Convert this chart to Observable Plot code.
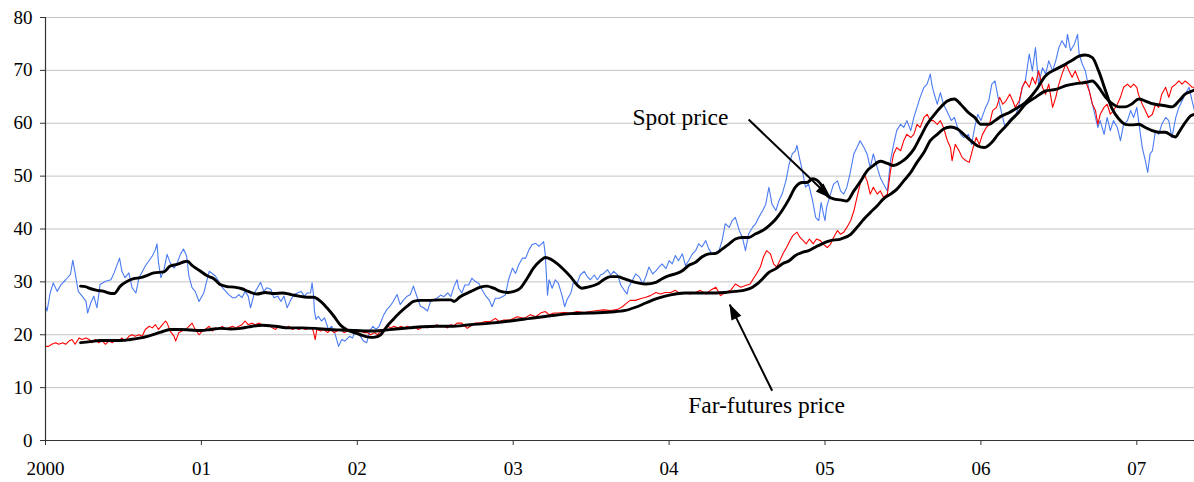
<!DOCTYPE html>
<html><head><meta charset="utf-8">
<script src="https://cdn.jsdelivr.net/npm/d3@7"></script>
<script src="https://cdn.jsdelivr.net/npm/@observablehq/plot@0.6"></script>
<style>
html,body{margin:0;padding:0;background:#fff;}
#chart{width:1194px;height:482px;}
</style></head><body><div id="chart"></div>
<script>
// x tick positions (years) and their labels
const yearTicks = [2000, 2001, 2002, 2003, 2004, 2005, 2006, 2007];
const yearLabels = ["2000", "01", "02", "03", "04", "05", "06", "07"];
const valueTicks = [0, 10, 20, 30, 40, 50, 60, 70, 80];

// [years since Jan 2000, price]
const spotPrice = [[0.00,25.4],[0.01,24.5],[0.03,27.9],[0.05,29.8],[0.075,28.2],[0.10,29.5],[0.13,30.4],[0.16,31.4],[0.175,34.1],[0.19,31.7],[0.21,28.2],[0.235,27.3],[0.26,26.3],[0.27,24.1],[0.29,26.0],[0.31,27.3],[0.33,25.1],[0.35,29.5],[0.385,30.1],[0.42,30.4],[0.44,31.7],[0.475,34.5],[0.49,32.0],[0.51,30.8],[0.535,31.7],[0.555,28.9],[0.58,27.9],[0.60,30.8],[0.64,33.0],[0.685,34.9],[0.705,36.1],[0.715,37.2],[0.725,33.6],[0.74,30.8],[0.76,32.3],[0.78,35.2],[0.80,33.6],[0.825,32.6],[0.845,33.6],[0.865,35.2],[0.885,36.2],[0.905,34.9],[0.92,31.1],[0.94,28.9],[0.96,28.2],[0.985,26.3],[1.015,27.9],[1.05,32.0],[1.09,31.1],[1.135,28.9],[1.175,27.6],[1.20,27.0],
[1.22,27.0],[1.24,27.6],[1.26,27.0],[1.28,28.2],[1.30,27.3],[1.315,25.1],[1.34,27.9],[1.36,28.9],[1.38,29.9],[1.40,28.2],[1.42,28.9],[1.445,28.6],[1.465,27.0],[1.49,27.3],[1.51,26.3],[1.53,27.3],[1.55,25.1],[1.575,26.7],[1.595,27.6],[1.615,27.9],[1.64,28.2],[1.66,27.3],[1.68,27.9],[1.70,27.9],[1.71,29.8],[1.72,27.3],[1.725,24.5],[1.735,22.9],[1.75,23.5],[1.77,22.6],[1.79,23.2],[1.815,21.0],[1.835,21.6],[1.855,20.4],[1.88,17.8],[1.90,19.1],[1.92,18.8],[1.95,19.7],[1.97,19.4],[1.99,21.0],[2.02,19.7],[2.04,18.8],[2.06,18.5],[2.08,20.7],[2.10,21.6],[2.12,21.0],[2.14,21.6],[2.17,23.8],[2.19,24.8],[2.21,25.4],[2.23,26.3],[2.255,27.6],[2.275,25.7],[2.30,26.7],[2.32,27.3],[2.34,27.6],[2.36,29.2],[2.385,27.0],[2.405,25.4],[2.425,25.1],[2.45,24.5],[2.47,26.3],
[2.49,26.6],[2.51,26.9],[2.535,27.5],[2.555,27.2],[2.58,27.9],[2.60,27.2],[2.62,29.1],[2.64,30.4],[2.65,28.8],[2.67,27.9],[2.69,29.4],[2.715,29.4],[2.735,30.7],[2.755,30.1],[2.78,29.7],[2.80,28.5],[2.82,27.5],[2.845,26.6],[2.865,25.3],[2.885,26.9],[2.91,26.9],[2.93,27.2],[2.95,27.5],[2.97,30.4],[2.995,32.6],[3.015,31.6],[3.035,33.2],[3.06,34.5],[3.08,34.5],[3.10,36.0],[3.12,37.0],[3.145,37.3],[3.165,36.7],[3.185,37.3],[3.195,37.6],[3.205,35.4],[3.22,27.5],[3.23,30.4],[3.25,28.8],[3.27,30.4],[3.29,29.7],[3.315,27.2],[3.33,25.3],[3.345,26.6],[3.37,27.9],[3.39,30.4],[3.41,29.7],[3.43,31.3],[3.455,32.0],[3.475,31.0],[3.495,30.4],[3.52,31.3],[3.54,30.4],[3.56,31.3],[3.58,31.6],[3.605,32.3],[3.625,31.3],[3.645,32.0],[3.67,31.3],[3.69,29.4],[3.71,28.5],
[3.73,27.7],[3.74,29.0],[3.765,30.3],[3.785,31.5],[3.81,30.9],[3.83,29.6],[3.85,30.9],[3.87,32.8],[3.895,31.5],[3.915,32.1],[3.935,32.8],[3.955,33.4],[3.98,32.5],[4.0,34.0],[4.02,33.4],[4.04,35.0],[4.06,34.0],[4.085,35.3],[4.105,33.1],[4.125,34.0],[4.15,35.3],[4.17,35.9],[4.19,37.2],[4.21,36.6],[4.235,37.8],[4.255,36.2],[4.275,35.3],[4.30,35.6],[4.32,35.9],[4.34,37.8],[4.36,41.0],[4.385,40.3],[4.405,41.6],[4.425,42.2],[4.45,39.7],[4.47,38.4],[4.49,35.9],[4.51,39.1],[4.535,40.3],[4.555,41.0],[4.575,42.2],[4.60,43.5],[4.62,44.7],[4.64,47.9],[4.66,44.7],[4.685,43.5],[4.705,45.4],[4.725,46.6],[4.75,49.2],[4.77,52.3],[4.79,54.2],[4.81,54.8],[4.82,55.8],[4.835,53.6],[4.855,51.0],[4.875,47.9],[4.895,48.5],[4.92,45.4],[4.94,42.2],[4.96,41.6],
[4.975,45.0],[4.99,42.8],[5.0,41.6],[5.01,44.1],[5.035,46.6],[5.055,48.5],[5.08,49.1],[5.10,47.2],[5.12,46.6],[5.14,47.9],[5.16,50.4],[5.185,54.2],[5.205,55.4],[5.225,56.7],[5.25,55.4],[5.27,54.2],[5.29,51.6],[5.31,54.2],[5.335,51.6],[5.355,49.7],[5.375,48.5],[5.40,47.2],[5.42,52.9],[5.44,56.0],[5.46,58.6],[5.485,59.8],[5.505,59.2],[5.525,60.5],[5.55,58.6],[5.57,61.1],[5.59,63.0],[5.61,64.9],[5.635,66.8],[5.655,67.4],[5.675,69.3],[5.685,67.4],[5.695,66.1],[5.72,63.6],[5.74,65.8],[5.76,63.6],[5.78,62.4],[5.81,60.5],[5.83,61.1],[5.85,59.2],[5.87,57.9],[5.89,57.3],[5.92,57.9],[5.94,56.0],[5.96,59.2],[5.98,61.7],[6.0,60.5],[6.03,63.0],[6.05,64.2],[6.07,67.4],[6.09,68.0],[6.11,64.9],[6.135,61.7],[6.155,59.2],[6.18,60.5],[6.20,61.1],
[6.22,61.1],[6.245,63.6],[6.265,66.8],[6.285,68.0],[6.31,73.1],[6.33,69.9],[6.35,74.3],[6.37,67.4],[6.395,70.5],[6.415,69.3],[6.435,71.8],[6.46,69.9],[6.48,71.8],[6.50,74.3],[6.52,75.6],[6.545,74.3],[6.555,76.8],[6.575,73.7],[6.60,75.0],[6.62,76.8],[6.63,73.1],[6.65,71.2],[6.67,69.9],[6.695,66.1],[6.715,63.6],[6.735,61.1],[6.75,59.2],[6.765,60.5],[6.79,57.9],[6.81,61.1],[6.83,58.6],[6.85,60.5],[6.875,59.2],[6.895,56.7],[6.915,59.8],[6.94,60.5],[6.96,62.4],[6.98,61.1],[7.0,63.0],[7.02,58.6],[7.035,55.4],[7.055,52.9],[7.07,50.7],[7.085,54.2],[7.10,54.8],[7.12,58.6],[7.14,57.9],[7.16,59.8],[7.185,61.1],[7.205,60.5],[7.225,57.3],[7.25,61.1],[7.27,63.0],[7.29,64.2],[7.31,65.5],[7.335,66.8],[7.355,64.2],[7.37,62.4]];

const farFuturesPrice = [[0.0,17.8],[0.02,17.8],[0.04,18.2],[0.065,18.5],[0.085,18.2],[0.11,18.5],[0.13,18.2],[0.15,18.8],[0.17,19.1],[0.19,18.2],[0.215,19.4],[0.235,19.1],[0.26,19.4],[0.28,19.1],[0.30,18.5],[0.32,19.1],[0.34,18.5],[0.365,18.8],[0.385,18.2],[0.405,18.8],[0.43,18.5],[0.45,19.1],[0.47,18.8],[0.49,19.4],[0.51,18.8],[0.535,19.7],[0.555,20.0],[0.575,19.7],[0.60,20.0],[0.62,19.7],[0.64,21.0],[0.665,21.6],[0.685,21.3],[0.705,21.9],[0.725,21.0],[0.75,21.9],[0.77,22.6],[0.78,22.2],[0.80,20.7],[0.825,19.7],[0.835,18.8],[0.855,20.4],[0.875,20.7],[0.90,21.0],[0.92,21.6],[0.94,22.2],[0.96,21.0],[0.985,20.0],[1.005,20.7],[1.025,21.0],[1.05,21.6],[1.07,20.7],[1.09,21.3],[1.11,21.0],[1.135,21.6],[1.155,21.0],[1.175,21.3],[1.20,21.6],
[1.22,21.3],[1.24,21.6],[1.26,21.9],[1.28,22.6],[1.30,21.9],[1.325,22.2],[1.345,21.9],[1.37,22.2],[1.39,21.9],[1.41,21.6],[1.43,21.9],[1.455,21.3],[1.475,21.0],[1.495,21.6],[1.52,21.3],[1.54,21.3],[1.56,21.6],[1.585,21.0],[1.605,21.3],[1.625,21.0],[1.645,21.3],[1.67,21.0],[1.69,21.3],[1.71,21.3],[1.72,20.4],[1.73,19.1],[1.74,21.0],[1.765,20.7],[1.785,21.0],[1.81,20.4],[1.83,21.0],[1.85,20.4],[1.87,20.7],[1.895,21.0],[1.915,20.4],[1.935,20.7],[1.96,21.0],[1.98,20.7],[2.00,20.4],[2.02,20.7],[2.045,20.4],[2.065,20.4],[2.085,20.0],[2.11,20.4],[2.13,20.0],[2.15,20.7],[2.17,21.0],[2.195,21.6],[2.215,21.3],[2.235,21.6],[2.26,21.3],[2.28,21.6],[2.30,21.3],[2.32,21.6],[2.345,21.3],[2.365,21.6],[2.39,21.0],[2.41,21.3],[2.43,21.6],[2.45,21.3],
[2.47,21.6],[2.49,21.4],[2.51,21.9],[2.535,21.5],[2.555,21.6],[2.58,21.3],[2.60,21.9],[2.62,21.7],[2.64,22.2],[2.67,22.2],[2.705,21.2],[2.725,21.6],[2.755,22.2],[2.79,22.2],[2.82,22.5],[2.855,22.5],[2.885,23.1],[2.91,22.5],[2.94,22.8],[2.98,22.8],[3.025,23.4],[3.07,23.1],[3.11,23.8],[3.145,23.4],[3.175,24.1],[3.205,24.4],[3.23,23.8],[3.26,24.1],[3.29,24.1],[3.325,24.2],[3.37,24.1],[3.41,24.4],[3.455,24.2],[3.495,24.4],[3.54,24.6],[3.58,24.7],[3.625,24.6],[3.67,24.8],[3.70,25.3],
[3.72,25.8],[3.75,26.5],[3.785,26.5],[3.815,26.8],[3.85,27.1],[3.88,27.4],[3.915,28.0],[3.945,27.7],[3.975,28.0],[4.01,28.0],[4.04,28.4],[4.075,27.7],[4.105,28.0],[4.135,27.7],[4.17,28.0],[4.20,28.4],[4.235,27.7],[4.265,28.4],[4.30,29.0],[4.33,27.4],[4.36,28.0],[4.395,28.4],[4.425,29.6],[4.46,29.0],[4.49,29.3],[4.52,29.6],[4.54,30.6],[4.56,31.5],[4.585,32.8],[4.605,34.7],[4.625,35.9],[4.65,35.3],[4.67,33.4],[4.69,32.8],[4.71,34.0],[4.73,35.3],[4.755,36.6],[4.775,37.8],[4.795,38.8],[4.82,39.4],[4.84,38.4],[4.86,37.8],[4.88,37.2],[4.90,38.1],[4.925,37.2],[4.945,38.1],
[4.97,37.8],[4.99,37.1],[5.015,36.5],[5.035,37.1],[5.055,38.4],[5.08,39.7],[5.10,39.0],[5.12,39.4],[5.14,40.3],[5.165,41.6],[5.185,43.4],[5.205,46.0],[5.23,49.1],[5.25,50.4],[5.27,49.1],[5.29,46.6],[5.31,47.9],[5.335,46.6],[5.355,47.2],[5.375,46.0],[5.40,46.6],[5.42,51.0],[5.44,54.2],[5.46,55.4],[5.485,54.8],[5.505,56.7],[5.525,57.9],[5.55,57.3],[5.57,57.9],[5.59,59.8],[5.61,59.2],[5.635,61.1],[5.655,61.7],[5.675,60.5],[5.695,60.5],[5.72,59.8],[5.74,60.5],[5.76,59.2],[5.785,56.7],[5.805,55.4],[5.815,52.9],[5.835,56.0],[5.86,54.8],[5.88,53.5],[5.905,52.9],[5.925,52.6],[5.95,55.4],[5.97,57.3],[5.99,56.0],[6.01,57.9],[6.035,59.2],[6.055,59.8],[6.075,62.4],[6.10,63.0],[6.12,64.9],[6.14,63.6],[6.16,64.2],[6.185,65.5],[6.205,64.2],
[6.22,63.0],[6.245,64.2],[6.265,66.8],[6.285,68.0],[6.31,66.8],[6.33,68.7],[6.35,67.4],[6.37,69.9],[6.395,66.8],[6.415,65.5],[6.435,67.4],[6.46,63.0],[6.48,64.9],[6.50,67.4],[6.52,69.3],[6.545,71.2],[6.565,69.9],[6.585,68.7],[6.605,69.9],[6.63,68.0],[6.65,67.4],[6.67,68.0],[6.695,66.1],[6.715,63.6],[6.735,62.4],[6.75,59.8],[6.765,61.7],[6.79,63.0],[6.81,63.6],[6.83,61.7],[6.85,62.4],[6.875,63.6],[6.895,64.9],[6.915,66.8],[6.94,67.4],[6.96,66.8],[6.98,67.4],[7.0,66.8],[7.01,65.5],[7.035,63.6],[7.055,62.4],[7.075,61.1],[7.10,61.7],[7.12,63.6],[7.14,63.0],[7.16,65.5],[7.185,66.8],[7.205,64.9],[7.225,66.8],[7.25,67.4],[7.27,68.0],[7.29,67.4],[7.31,68.0],[7.335,67.4],[7.355,66.8],[7.37,66.8]];

const spotAverage = [[0.225,29.2],[0.255,29.1],[0.29,28.7],[0.33,28.4],[0.375,28.2],[0.405,27.9],[0.44,27.8],[0.48,29.2],[0.525,30.1],[0.565,30.6],[0.61,30.8],[0.65,31.2],[0.695,31.7],[0.76,31.9],[0.80,33.0],[0.845,33.3],[0.89,33.8],[0.91,33.9],[0.94,33.1],[0.985,32.2],[1.04,31.1],[1.08,30.6],[1.12,29.5],[1.165,29.1],[1.21,29.0],[1.26,28.7],[1.30,28.2],[1.355,27.7],[1.41,28.0],[1.465,27.8],[1.52,27.9],[1.575,27.6],[1.625,27.3],[1.68,27.1],[1.72,27.1],[1.765,26.3],[1.805,25.1],[1.85,23.5],[1.89,21.9],[1.935,20.9],[1.98,20.4],[2.02,20.0],[2.065,19.6],[2.105,19.5],[2.15,20.0],[2.19,21.6],[2.23,22.9],[2.27,24.1],[2.32,25.4],[2.36,26.3],[2.405,26.5],[2.45,26.5],[2.535,26.6],[2.60,26.6],[2.62,26.3],[2.66,27.2],[2.73,28.2],[2.79,29.0],[2.83,29.2],[2.875,28.8],[2.92,28.2],[2.96,28.0],[3.005,28.2],[3.045,28.8],[3.09,30.7],[3.13,32.6],[3.175,34.0],[3.205,34.6],[3.24,34.3],[3.28,33.5],[3.325,32.3],[3.37,30.9],[3.41,29.4],[3.44,28.8],[3.475,29.0],[3.54,29.6],[3.58,30.4],[3.625,31.0],[3.67,31.0],[3.71,30.6],[3.75,30.2],[3.785,29.9],[3.85,29.6],[3.915,29.9],[3.955,30.6],[4.0,31.2],[4.04,31.5],[4.085,32.1],[4.125,33.1],[4.17,33.7],[4.21,34.7],[4.255,35.3],[4.30,35.4],[4.34,36.2],[4.385,37.2],[4.425,38.1],[4.47,38.4],[4.51,38.4],[4.555,39.1],[4.60,39.7],[4.64,40.6],[4.685,41.9],[4.725,43.5],[4.77,45.7],[4.81,47.9],[4.855,48.8],[4.885,48.8],[4.92,49.5],[4.95,49.2],[4.98,48.2],[5.015,46.3],[5.055,45.7],[5.10,45.5],[5.14,45.3],[5.185,47.2],[5.23,49.1],[5.27,51.0],[5.31,52.0],[5.355,52.8],[5.40,52.4],[5.44,52.0],[5.485,52.6],[5.525,53.5],[5.57,55.1],[5.61,57.3],[5.655,59.8],[5.695,61.4],[5.74,63.0],[5.785,64.2],[5.83,64.6],[5.87,63.6],[5.92,62.0],[5.96,61.1],[6.0,59.8],[6.05,59.8],[6.09,60.5],[6.135,61.4],[6.18,62.0],[6.22,62.7],[6.285,63.9],[6.35,66.1],[6.415,69.0],[6.48,70.2],[6.545,71.2],[6.585,71.9],[6.63,72.7],[6.67,72.9],[6.715,72.4],[6.755,69.9],[6.80,66.1],[6.842,62.7],[6.885,60.8],[6.927,59.8],[6.97,59.7],[7.013,59.8],[7.055,59.2],[7.098,58.6],[7.14,58.3],[7.183,58.3],[7.226,57.6],[7.25,57.4],[7.27,58.3],[7.31,60.1],[7.345,61.4],[7.37,61.7]];

const farFuturesAverage = [[0.225,18.5],[0.29,18.7],[0.35,18.9],[0.42,18.9],[0.48,18.9],[0.545,19.1],[0.61,19.4],[0.675,19.9],[0.74,20.5],[0.80,21.0],[0.865,21.0],[0.93,20.9],[0.995,20.8],[1.06,21.0],[1.12,21.2],[1.185,21.1],[1.25,21.2],[1.305,21.5],[1.39,21.8],[1.475,21.6],[1.56,21.3],[1.645,21.3],[1.73,21.2],[1.815,21.0],[1.90,20.9],[1.988,20.8],[2.074,20.7],[2.16,20.8],[2.245,21.1],[2.33,21.3],[2.416,21.5],[2.50,21.6],[2.60,21.6],[2.725,21.9],[2.855,22.2],[2.98,22.6],[3.11,23.1],[3.24,23.6],[3.37,24.0],[3.495,24.1],[3.625,24.3],[3.72,24.6],[3.785,25.2],[3.85,26.0],[3.915,26.8],[3.975,27.3],[4.04,27.7],[4.105,27.9],[4.17,27.9],[4.235,27.9],[4.30,27.9],[4.36,28.0],[4.425,28.2],[4.49,28.5],[4.535,29.0],[4.565,29.6],[4.60,30.6],[4.64,31.8],[4.685,32.5],[4.725,33.4],[4.77,34.0],[4.81,35.0],[4.855,35.6],[4.895,35.9],[4.94,36.6],[4.98,37.2],[5.035,37.8],[5.10,38.1],[5.165,39.0],[5.205,40.3],[5.25,41.9],[5.29,43.1],[5.335,44.4],[5.375,45.7],[5.42,46.6],[5.46,47.5],[5.505,49.1],[5.55,50.7],[5.59,52.6],[5.635,54.5],[5.675,56.7],[5.72,57.9],[5.76,58.9],[5.805,59.3],[5.85,58.9],[5.89,57.9],[5.935,56.7],[5.98,55.7],[6.02,55.4],[6.07,56.4],[6.11,57.9],[6.155,59.3],[6.20,60.8],[6.24,62.0],[6.285,63.6],[6.35,64.9],[6.415,66.1],[6.48,66.4],[6.545,67.1],[6.61,67.5],[6.67,67.7],[6.715,68.0],[6.755,66.8],[6.80,64.9],[6.842,63.7],[6.885,63.1],[6.927,63.1],[6.97,63.7],[7.013,64.6],[7.055,64.2],[7.098,63.7],[7.14,63.5],[7.183,63.3],[7.226,63.1],[7.27,64.2],[7.31,65.5],[7.355,66.1],[7.37,66.3]];

// annotation labels and arrows (data units: year, price)
const labelTexts = ["Spot price", "Far-futures price"];
const labelX = [2003.765, 2004.122];
const labelY = [61.1, 6.7];
const arrowFrom = [[2004.51, 60.7], [2004.661, 9.4]];
const arrowTo = [[2005.035, 45.9], [2004.389, 25.7]];

const toRows = arr => arr.map(([t, v]) => ({date: 2000 + t, value: v}));
const labels = labelTexts.map((text, i) => ({text, x: labelX[i], y: labelY[i]}));
const arrows = arrowFrom.map((f, i) => ({x1: f[0], y1: f[1], x2: arrowTo[i][0], y2: arrowTo[i][1]}));

const chart = Plot.plot({
  width: 1194, height: 482,
  marginLeft: 45, marginRight: 0, marginTop: 17, marginBottom: 42,
  x: {domain: [2000, 2007.37]},
  y: {domain: [0, 80]},
  style: {fontFamily: "'Liberation Serif', 'Times New Roman', serif", fontSize: "19px", color: "#000", background: "#fff", overflow: "visible"},
  marks: [
    Plot.gridY(valueTicks.filter(v => v > 0), {stroke: "#c4c4c4", strokeOpacity: 1, strokeWidth: 1}),
    Plot.line(toRows(spotPrice), {x: "date", y: "value", stroke: "#4a7bf2", strokeWidth: 1.1}),
    Plot.line(toRows(farFuturesPrice), {x: "date", y: "value", stroke: "#ff0000", strokeWidth: 1.1}),
    Plot.line(toRows(farFuturesAverage), {x: "date", y: "value", stroke: "#000", strokeWidth: 2.9, curve: "monotone-x"}),
    Plot.line(toRows(spotAverage), {x: "date", y: "value", stroke: "#000", strokeWidth: 2.9, curve: "monotone-x"}),
    Plot.ruleY([0], {stroke: "#333", strokeWidth: 1.2}),
    Plot.ruleX([2000], {y1: 0, y2: 80, stroke: "#333", strokeWidth: 1.2}),
    Plot.axisY(valueTicks, {tickSize: 5, tickPadding: 8, label: null, stroke: "#333", fill: "#000"}),
    Plot.axisX(yearTicks, {tickSize: 5, tickPadding: 16, label: null, stroke: "#333", fill: "#000",
      tickFormat: d => yearLabels[yearTicks.indexOf(d)]}),
    Plot.link(arrows, {x1: "x1", y1: "y1", x2: "x2", y2: "y2", stroke: "#000", strokeWidth: 2, markerEnd: "arrow"}),
    Plot.text(labels, {x: "x", y: "y", text: "text", textAnchor: "start", lineAnchor: "middle", fontSize: 23.5, fill: "#000"})
  ]
});

// turn the arrow markers into filled triangular heads
chart.querySelectorAll("marker").forEach(m => {
  m.setAttribute("viewBox", "-16 -6 17 12");
  m.setAttribute("markerWidth", "17");
  m.setAttribute("markerHeight", "12");
  m.setAttribute("markerUnits", "userSpaceOnUse");
  m.setAttribute("fill", "#000");
  m.setAttribute("stroke", "none");
  m.innerHTML = "";
  const p = document.createElementNS("http://www.w3.org/2000/svg", "path");
  p.setAttribute("d", "M-15,-5.5L1,0L-15,5.5Z");
  m.appendChild(p);
});

document.getElementById("chart").appendChild(chart);
</script></body></html>
